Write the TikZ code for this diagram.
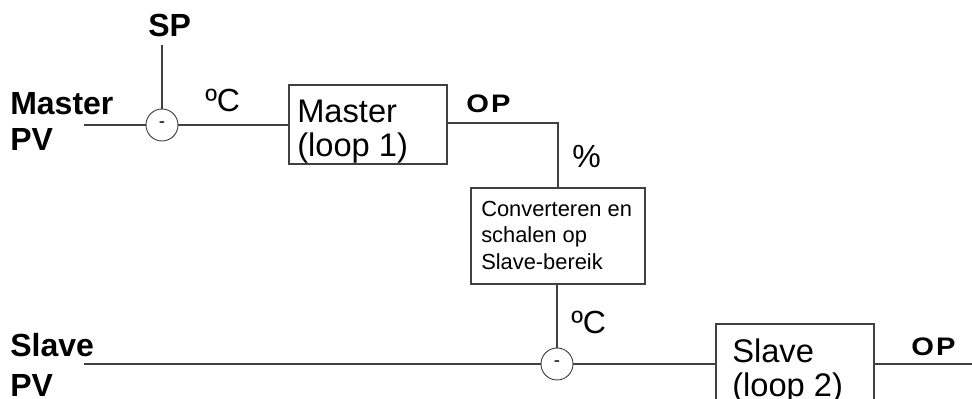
\documentclass[tikz,border=0pt]{standalone}
\usepackage{fontspec}
\setmainfont{Liberation Sans}
\usetikzlibrary{fit}
\begin{document}
\begin{tikzpicture}[x=0.75pt,y=-0.75pt,
  wire/.style={draw=black!75,line width=0.8pt},
  blk/.style={draw=black!75,line width=0.8pt,inner sep=0pt},
  sumc/.style={circle,draw=black!75,line width=0.7pt,minimum size=24pt,inner sep=0pt,font=\fontsize{14}{16}\selectfont},
  biglbl/.style={anchor=base west,inner sep=0pt,font=\fontsize{24}{28}\selectfont\bfseries},
  boxtxt/.style={anchor=base west,inner sep=0pt,font=\fontsize{24.5}{28}\selectfont},
  unit/.style={anchor=base west,inner sep=0pt,font=\fontsize{24}{28}\selectfont},
  smalltxt/.style={anchor=base west,inner sep=0pt,font=\fontsize{16.4}{19}\selectfont},
  oplbl/.style={anchor=base west,inner sep=0pt,font=\fontsize{19}{22}\selectfont\bfseries}]
\useasboundingbox (0,0) rectangle (972,399);
% labels
\node[biglbl] (lmaster) at (10,115) {Master};
\node[biglbl] (lmpv) at (10,151) {PV};
\node[biglbl] (lsp) at (148,37) {SP};
\node[biglbl] (lslave) at (10,356) {Slave};
\node[biglbl] (lspv) at (10,397) {PV};
% summing junctions
\node[sumc] (c1) at (162,125) {-};
\node[sumc] (c2) at (557,364) {-};
% boxes
\node[blk,fit={(289,85)(447,164)}] (mbox) {};
\node[blk,fit={(471,188)(645,284)}] (conv) {};
\node[blk,fit={(716,324)(874,420)}] (sbox) {};
% box texts
\node[boxtxt] (tm1) at (297,123) {Master};
\node[boxtxt] (tm2) at (297,157) {(loop 1)};
\node[smalltxt] (tc1) at (481,217) {Converteren en};
\node[smalltxt] (tc2) at (481,243) {schalen op};
\node[smalltxt] (tc3) at (481,270) {Slave-bereik};
\node[boxtxt] (ts1) at (732,363) {Slave};
\node[boxtxt] (ts2) at (732,397) {(loop 2)};
% unit labels
\node[unit] (u1) at (205,112) {ºC};
\node[unit] (u2) at (571,334) {ºC};
\node[unit] (u3) at (572,168) {\%};
\node[oplbl] (op1) at (466,113) {\scalebox{1.15}[1]{O\hspace{1.5pt}P}};
\node[oplbl] (op2) at (911,355) {\scalebox{1.15}[1]{O\hspace{1.5pt}P}};
% connector ends
\coordinate (mpv) at (84,125);
\coordinate (sptop) at (162,45);
\coordinate (spv) at (84,364);
\coordinate (opend) at (972,364);
% connectors
\draw[wire] (mpv) -- (c1.west);
\draw[wire] (sptop) -- (c1.north);
\draw[wire] (c1.east) -- (mbox.west |- c1);
\draw[wire] (mbox.east |- 0,123) -- (conv.north |- 0,123) -- (conv.north);
\draw[wire] (c2.north |- conv.south) -- (c2.north);
\draw[wire] (spv) -- (c2.west);
\draw[wire] (c2.east) -- (sbox.west |- c2);
\draw[wire] (sbox.east |- c2) -- (opend);
\end{tikzpicture}
\end{document}
